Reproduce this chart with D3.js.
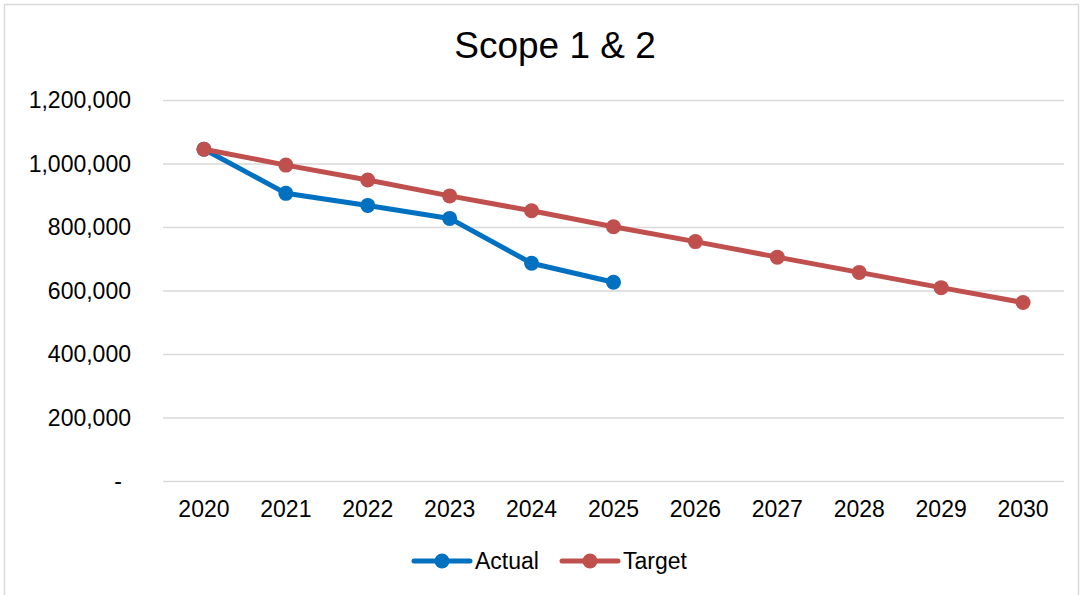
<!DOCTYPE html>
<html>
<head>
	<meta charset="utf-8">
	<title>Scope 1 & 2</title>
	<script src="https://cdn.jsdelivr.net/npm/d3@7/dist/d3.min.js"></script>
	<style>
		body { margin: 0; background: #fff; }
		text { font-family: "Liberation Sans", Arial, sans-serif; fill: #000; }
		.grid line { stroke: #d9d9d9; stroke-width: 1.5px; }
		.grid .domain { display: none; }
	</style>
</head>
<body>
	<svg id="chart" width="1083" height="595"></svg>
	<script>
		// data
		var years = ['2020', '2021', '2022', '2023', '2024', '2025', '2026', '2027', '2028', '2029', '2030'];
		var actual = [1045000, 906000, 868000, 827000, 686000, 626000];
		var target = [1045000, 995000, 948000, 898000, 851000, 801000, 754000, 705000, 657000, 609000, 562000];
		var yTicks = [0, 200000, 400000, 600000, 800000, 1000000, 1200000];
		var seriesNames = ['Actual', 'Target'];
		var colors = ['#0070c0', '#c0504d'];

		var svg = d3.select('#chart'),
			width = +svg.attr('width'),
			height = +svg.attr('height');

		var margin = { top: 100, right: 19, bottom: 114, left: 163 };

		// chart border
		svg.append('rect')
			.attr('x', 4.5).attr('y', 4.5)
			.attr('width', 1074).attr('height', 620)
			.attr('fill', 'none')
			.attr('stroke', '#d9d9d9')
			.attr('stroke-width', 1.5);

		var x = d3.scaleBand()
			.domain(years)
			.range([margin.left, width - margin.right]);

		var y = d3.scaleLinear()
			.domain([0, 1200000])
			.range([height - margin.bottom, margin.top]);

		var fmt = d3.format(',');

		// gridlines
		svg.append('g')
			.attr('class', 'grid')
			.attr('transform', 'translate(' + margin.left + ',0)')
			.call(d3.axisLeft(y).tickValues(yTicks).tickSize(-(width - margin.left - margin.right)).tickFormat(''));

		// y labels
		svg.append('g')
			.selectAll('text')
			.data(yTicks)
			.enter()
			.append('text')
			.attr('x', d => d === 0 ? 122 : 131)
			.attr('y', d => y(d))
			.attr('dy', '0.35em')
			.attr('text-anchor', 'end')
			.style('font-size', '23px')
			.text(d => d === 0 ? '-' : fmt(d));

		// x labels
		svg.append('g')
			.selectAll('text')
			.data(years)
			.enter()
			.append('text')
			.attr('x', d => x(d) + x.bandwidth() / 2)
			.attr('y', y(0) + 36)
			.attr('text-anchor', 'middle')
			.style('font-size', '23px')
			.text(d => d);

		// title
		svg.append('text')
			.attr('x', 555)
			.attr('y', 58)
			.attr('text-anchor', 'middle')
			.style('font-size', '37px')
			.text('Scope 1 & 2');

		var line = d3.line()
			.x((d, i) => x(years[i]) + x.bandwidth() / 2)
			.y(d => y(d));

		[actual, target].forEach(function (values, k) {
			var g = svg.append('g');
			g.append('path')
				.datum(values)
				.attr('fill', 'none')
				.attr('stroke', colors[k])
				.attr('stroke-width', 5)
				.attr('stroke-linejoin', 'round')
				.attr('d', line);
			g.selectAll('circle')
				.data(values)
				.enter()
				.append('circle')
				.attr('cx', (d, i) => x(years[i]) + x.bandwidth() / 2)
				.attr('cy', d => y(d))
				.attr('r', 7.5)
				.attr('fill', colors[k]);
		});

		// legend
		var legendX = [414, 562];
		var legend = svg.append('g')
			.selectAll('g')
			.data(seriesNames)
			.enter()
			.append('g')
			.attr('transform', (d, i) => 'translate(' + legendX[i] + ',561)');
		legend.append('line')
			.attr('x1', 0).attr('x2', 56)
			.attr('stroke', (d, i) => colors[i])
			.attr('stroke-width', 5)
			.attr('stroke-linecap', 'round');
		legend.append('circle')
			.attr('cx', 28)
			.attr('r', 7.5)
			.attr('fill', (d, i) => colors[i]);
		legend.append('text')
			.attr('x', 61)
			.attr('dy', '0.35em')
			.style('font-size', '23px')
			.text(d => d);
	</script>
</body>
</html>
